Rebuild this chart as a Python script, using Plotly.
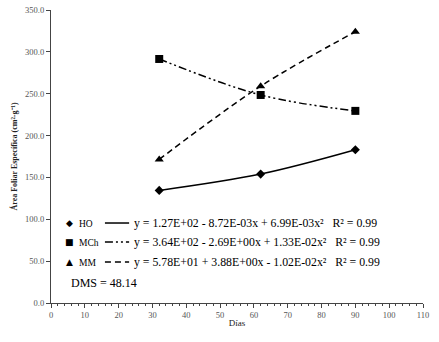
import plotly.graph_objects as go

dias = [32, 62, 90]
ho = [134.5, 154.0, 183.0]
mch = [291.5, 248.5, 229.5]
mm = [171.5, 259.0, 324.0]

series_names = ["HO", "MCh", "MM"]
equations = [
    "y = 1.27E+02 - 8.72E-03x + 6.99E-03x²   R² = 0.99",
    "y = 3.64E+02 - 2.69E+00x + 1.33E-02x²   R² = 0.99",
    "y = 5.78E+01 + 3.88E+00x - 1.02E-02x²   R² = 0.99",
]
dms_text = "DMS = 48.14"

font = "Liberation Serif, Times New Roman, serif"
symbols = ["diamond", "square", "triangle-up"]
glyphs = ["◆", "■", "▲"]
dashes = ["solid", "8px,3px,2px,3px,2px,3px", "6px,4px"]
sizes = [7, 8, 8]

fig = go.Figure()
for vals, sym, dash, sz, name in zip([ho, mch, mm], symbols, dashes, sizes, series_names):
    fig.add_trace(go.Scatter(
        x=dias, y=vals, mode="lines+markers", name=name,
        line=dict(color="black", width=1.5, dash=dash, shape="spline"),
        marker=dict(symbol=sym, size=sz, color="black"),
        showlegend=False,
    ))

# custom legend
row_y = [0.273, 0.208, 0.140]
for i in range(3):
    fig.add_annotation(xref="paper", yref="paper", x=0.051, y=row_y[i], text=glyphs[i],
                       showarrow=False, xanchor="center", yanchor="middle",
                       font=dict(family="DejaVu Sans", size=9, color="black"))
    fig.add_annotation(xref="paper", yref="paper", x=0.071, y=row_y[i] - 0.004, text=series_names[i],
                       showarrow=False, xanchor="left", yanchor="middle",
                       font=dict(family=font, size=9.5, color="black"))
    fig.add_shape(type="line", xref="paper", yref="paper", x0=0.145, x1=0.21,
                  y0=row_y[i], y1=row_y[i],
                  line=dict(color="black", width=1.5, dash=dashes[i]))
    fig.add_annotation(xref="paper", yref="paper", x=0.219, y=row_y[i], text=equations[i],
                       showarrow=False, xanchor="left", yanchor="middle",
                       font=dict(family=font, size=11.8, color="black"))
fig.add_annotation(xref="paper", yref="paper", x=0.048, y=0.068, text=dms_text,
                   showarrow=False, xanchor="left", yanchor="middle",
                   font=dict(family=font, size=12, color="black"))

fig.update_layout(
    width=439, height=342,
    margin=dict(l=51, r=16, t=10, b=39),
    paper_bgcolor="white", plot_bgcolor="white",
    font=dict(family=font, color="black"),
)
fig.update_xaxes(
    range=[0, 110], dtick=10, tick0=0, showgrid=False, zeroline=False,
    showline=True, linecolor="#444", linewidth=1.2, automargin=False,
    ticks="outside", ticklen=4, tickcolor="#444",
    minor=dict(dtick=2, ticks="outside", ticklen=2, tickcolor="#444"),
    tickfont=dict(family=font, size=8.5, color="#555"),
    title=dict(text="Días", font=dict(family=font, size=9, color="#222"), standoff=0),
)
fig.update_yaxes(
    range=[0, 350], dtick=50, tick0=0, showgrid=False, zeroline=False,
    showline=True, linecolor="#444", linewidth=1.2, automargin=False,
    ticks="outside", ticklen=4, tickcolor="#444",
    tickformat=".1f",
    tickfont=dict(family=font, size=8.5, color="#555"),
    title=dict(text="<b>Área Foliar Específica (cm²·g⁻¹)</b>",
               font=dict(family=font, size=8, color="#222"), standoff=6),
)
fig.write_html("out.html", config={"displayModeBar": False},
               post_script="document.body.style.margin='0';")
